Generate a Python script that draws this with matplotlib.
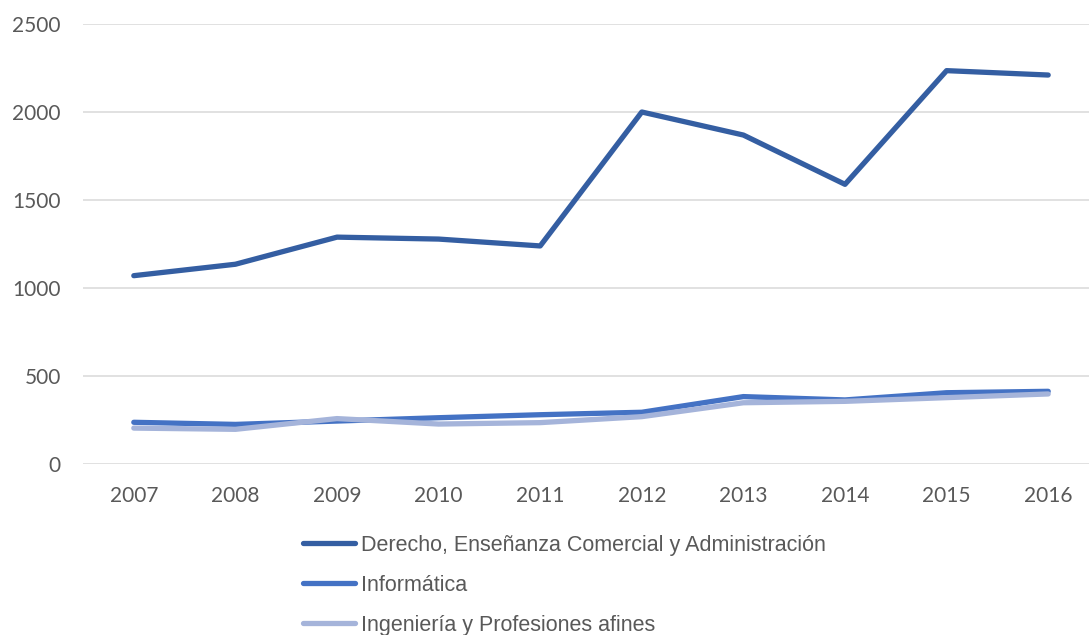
import matplotlib
matplotlib.use("Agg")
import matplotlib.pyplot as plt

# Graduates per year by field of study
years = ["2007", "2008", "2009", "2010", "2011", "2012", "2013", "2014", "2015", "2016"]
derecho = [1070, 1135, 1289, 1278, 1239, 2000, 1869, 1589, 2235, 2210]
informatica = [237, 225, 244, 263, 280, 294, 383, 364, 405, 413]
ingenieria = [204, 197, 258, 227, 235, 269, 348, 356, 377, 398]

series_names = [
    "Derecho, Enseñanza Comercial y Administración",
    "Informática",
    "Ingeniería y Profesiones afines",
]
series_colors = ["#345ea2", "#4472c4", "#a5b4da"]

W, H = 1089, 635
fig = plt.figure(figsize=(W / 100, H / 100), dpi=100)
ax = fig.add_axes([83 / W, 1 - 464 / H, 1016 / W, 440 / H])

x = list(range(len(years)))
series = [derecho, informatica, ingenieria]
for vals, name, col in zip(series, series_names, series_colors):
    ax.plot(x, vals, color=col, lw=3.8, solid_capstyle="round",
            solid_joinstyle="round", label=name)

ax.set_xlim(-0.5, len(years) - 0.5)
ax.set_ylim(0, 2500)
ax.set_yticks([0, 500, 1000, 1500, 2000, 2500])
ax.set_xticks(x)
ax.set_xticklabels(years)
ax.yaxis.grid(True, color="#d9d9d9", lw=1.1)
ax.set_axisbelow(True)
for s in ax.spines.values():
    s.set_visible(False)
ax.tick_params(axis="both", length=0, labelsize=15, labelcolor="#595959")
ax.tick_params(axis="y", pad=16)
ax.tick_params(axis="x", pad=16)
for lbl in ax.get_xticklabels() + ax.get_yticklabels():
    lbl.set_fontfamily("Lato")

fig.legend(loc="upper left", bbox_to_anchor=(303 / W, 1 - 535 / H),
           frameon=False, borderpad=0, borderaxespad=0,
           handlelength=2.4, handletextpad=0.3, labelspacing=0.88,
           prop={"family": "Liberation Sans", "size": 15.5},
           labelcolor="#595959")

fig.savefig("out.png", dpi=100)
